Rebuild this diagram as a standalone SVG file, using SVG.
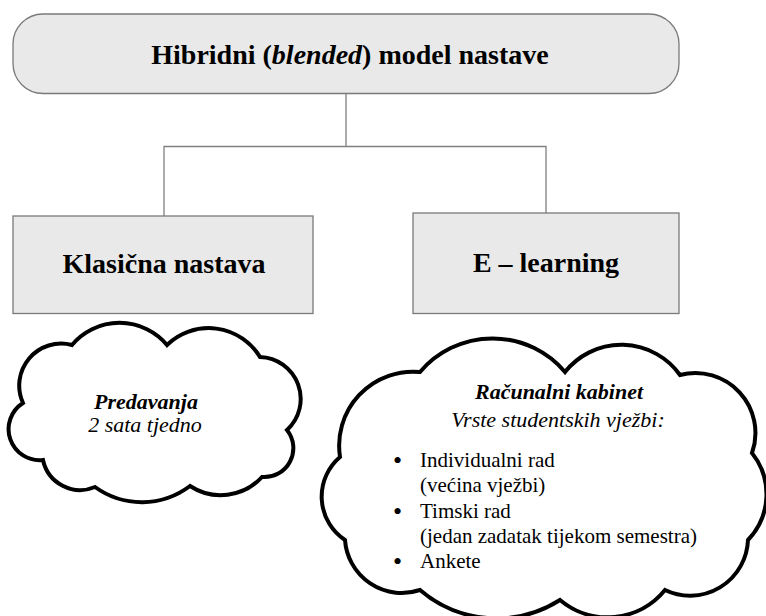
<svg xmlns="http://www.w3.org/2000/svg" width="766" height="616" viewBox="0 0 766 616">
<style>
.box{fill:#e9e9e9;stroke:#7a7a7a;stroke-width:1.3}
.conn{fill:none;stroke:#808080;stroke-width:1.3}
.cloud{fill:#ffffff;stroke:#000000;stroke-width:4;stroke-linejoin:miter;stroke-miterlimit:3}
text{font-family:'Liberation Serif','Times New Roman',Times,'Noto Serif','DejaVu Serif',serif;fill:#000}
.h{font-weight:bold;font-size:28px}
.c{font-size:22px}
.l{font-size:21px}
.b{font-size:26px}
</style>
<rect width="766" height="616" fill="#ffffff"/>
<g id="connectors">
<path class="conn" d="M346,93 V146.5 M164,216 V146.5 H546 V213"/>
</g>
<g id="root">
<rect class="box" x="13" y="14" width="666" height="79.5" rx="30" ry="30"/>
<text class="h" x="350" y="64" text-anchor="middle">Hibridni (<tspan font-style="italic">blended</tspan>) model nastave</text>
</g>
<g id="klasicna">
<rect class="box" x="13" y="216" width="300" height="97.5"/>
<text class="h" x="164" y="273" text-anchor="middle">Klasična nastava</text>
</g>
<g id="elearning">
<rect class="box" x="413" y="213" width="266" height="100.5"/>
<text class="h" x="546" y="272" text-anchor="middle">E – learning</text>
</g>
<g id="cloud-predavanja">
<path class="cloud" d="M72,345 A62,62 0 0 1 167,345 A60,60 0 0 1 260,357 A42,42 0 0 1 287,430 A29,29 0 0 1 262,477 A56,56 0 0 1 190,486 A80,80 0 0 1 95,487 A38,38 0 0 1 43,460 A31,31 0 0 1 23,403 A42,42 0 0 1 72,345 Z"/>
<text class="c" x="146" y="409" text-anchor="middle" font-weight="bold" font-style="italic">Predavanja</text>
<text class="c" x="145" y="432" text-anchor="middle" font-style="italic">2 sata tjedno</text>
</g>
<g id="cloud-racunalni">
<path class="cloud" d="M420,372 A95,95 0 0 1 565,372 A72,72 0 0 1 680,375 A60,60 0 0 1 752,453 A66,66 0 0 1 748,540 A58,58 0 0 1 665,590 A74,74 0 0 1 560,600 A118,118 0 0 1 420,590 A57,57 0 0 1 345,540 A52,52 0 0 1 340,457 A74,74 0 0 1 420,372 Z"/>
<text class="c" x="559" y="399" text-anchor="middle" font-weight="bold" font-style="italic" font-size="23">Računalni kabinet</text>
<text class="c" x="558" y="427" text-anchor="middle" font-style="italic" font-size="23">Vrste studentskih vježbi:</text>
<text class="b" x="393" y="469">•</text>
<text class="l" x="420" y="467">Individualni rad</text>
<text class="l" x="420" y="492">(većina vježbi)</text>
<text class="b" x="393" y="520">•</text>
<text class="l" x="420" y="518">Timski rad</text>
<text class="l" x="420" y="543">(jedan zadatak tijekom semestra)</text>
<text class="b" x="393" y="570">•</text>
<text class="l" x="420" y="568">Ankete</text>
</g>
</svg>
